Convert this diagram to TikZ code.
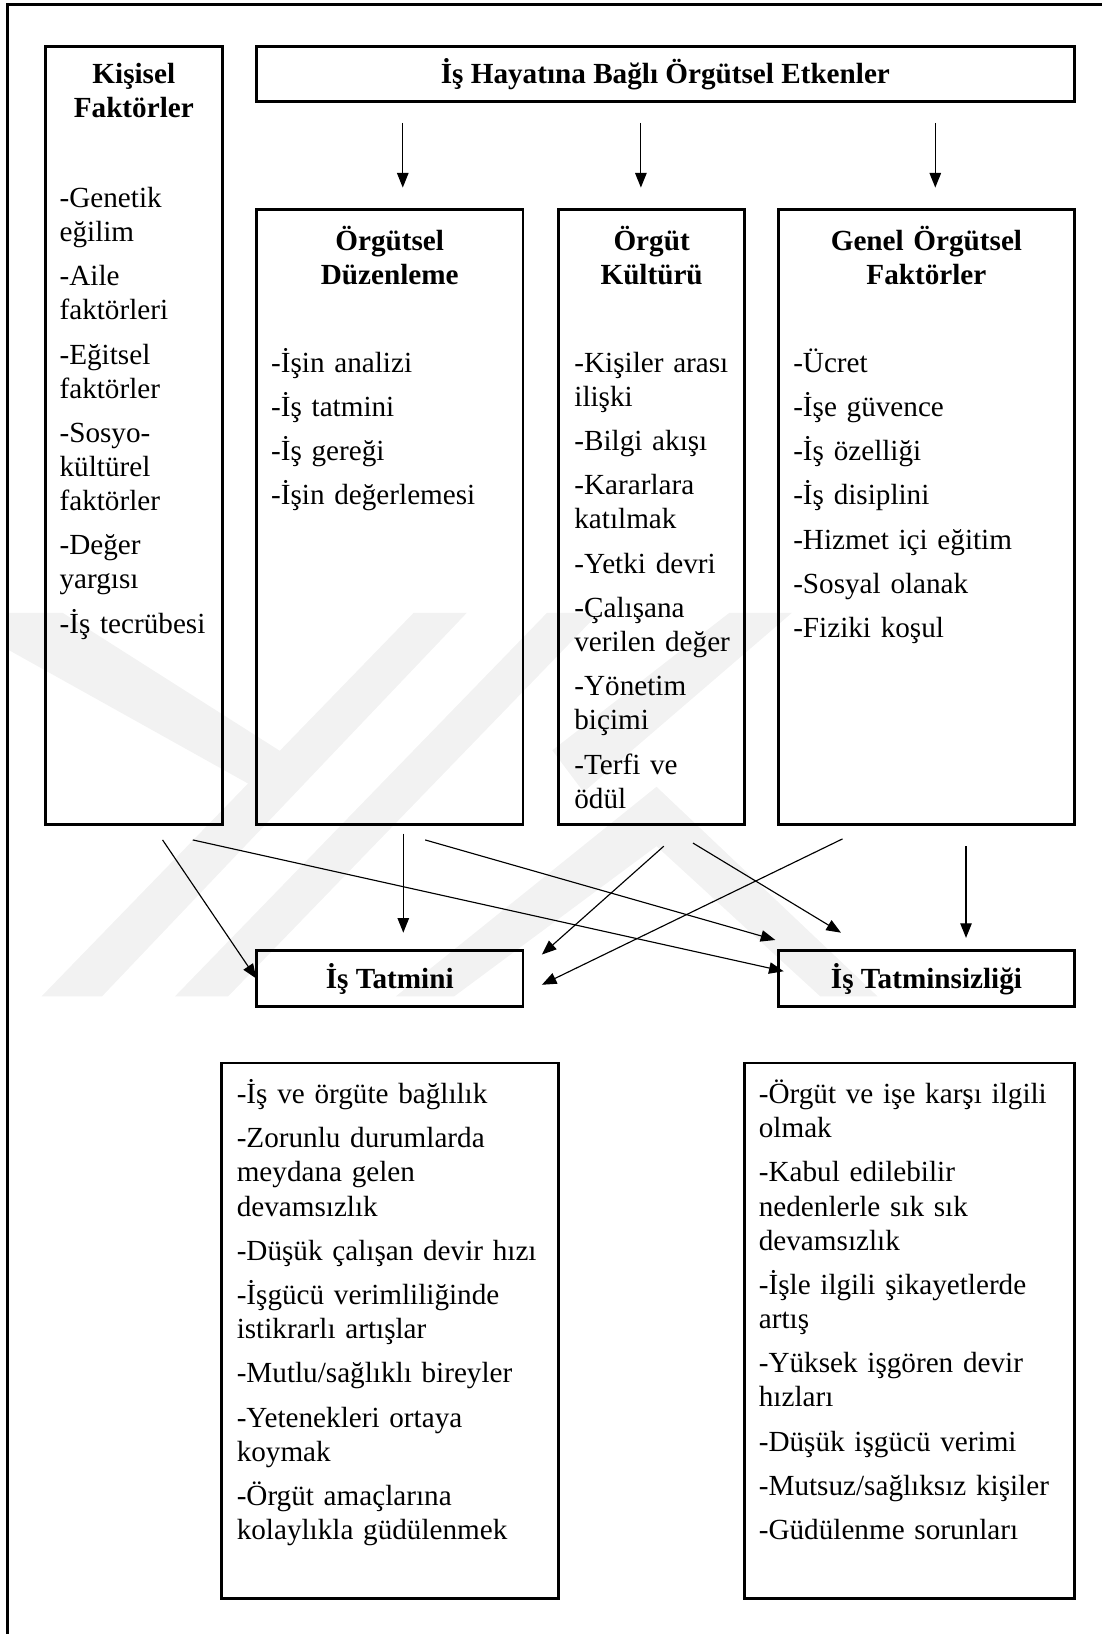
\documentclass[tikz,border=0pt]{standalone}
\usepackage{fontspec}
\setmainfont{Liberation Serif}
\usetikzlibrary{arrows.meta,calc}
\begin{document}
\begin{tikzpicture}[x=1pt,y=-1pt,
  box/.style={draw, line width=2.4pt, inner sep=0pt, outer sep=0pt, anchor=north west},
  head/.style={font=\fontsize{28}{32.7}\selectfont\bfseries, align=center, anchor=base, inner sep=0pt},
  list/.style={font=\fontsize{28}{32.7}\selectfont, align=left, anchor=base west, inner sep=0pt, text width=330pt},
  arr/.style={line width=1.1pt, -{Triangle[length=14pt,width=11pt]}},
  wm/.style={fill=black!5, draw=none}
]
\useasboundingbox (0,0) rectangle (1057,1568);
% watermark
\fill[wm] (7,588) -- (60,588) -- (274,724) -- (249,758) -- (7,623) -- cycle;
\fill[wm] (397,588) -- (448,588) -- (98,956) -- (40,956) -- cycle;
\fill[wm] (525,588) -- (575,588) -- (219,956) -- (168,956) -- cycle;
\fill[wm] (700,588) -- (760,588) -- (560,760) -- (530,720) -- cycle;
\fill[wm] (380,956) -- (630,755) -- (842,956) -- (787,956) -- (630,812) -- (436,956) -- cycle;
% frame
\draw[line width=2.4pt] (7,1568) -- (7,4.5) -- (1057,4.5);
% boxes
\node[box, minimum width=169.8pt, minimum height=746.5pt] (kisisel) at (43.5,44.5) {};
\node[box, minimum width=785pt, minimum height=53pt] (header) at (246,44.5) {};
\node[box, minimum width=256pt, minimum height=590pt] (duzen) at (246,201) {};
\node[box, minimum width=178.5pt, minimum height=590pt] (kultur) at (536,201) {};
\node[box, minimum width=284pt, minimum height=590pt] (genel) at (747,201) {};
\node[box, minimum width=256pt, minimum height=54pt] (tatmin) at (246,912) {};
\node[box, minimum width=284pt, minimum height=54pt] (tatminsiz) at (747,912) {};
\node[box, minimum width=323.4pt, minimum height=514pt] (sonucA) at (212.6,1020) {};
\node[box, minimum width=316.7pt, minimum height=514pt] (sonucB) at (714.3,1020) {};
% headings
\node[head] (tHeader) at (638.5,80) {İş Hayatına Bağlı Örgütsel Etkenler};
\node[head, text width=170pt] (tKisisel) at (128.4,80) {Kişisel\\Faktörler};
\node[head, text width=250pt] (tDuzen) at (374,240) {Örgütsel\\Düzenleme};
\node[head, text width=178pt] (tKultur) at (625.3,240) {Örgüt\\Kültürü};
\node[head, text width=280pt] (tGenel) at (889,240) {Genel Örgütsel\\Faktörler};
\node[head] (tTatmin) at (374,949) {İş Tatmini};
\node[head] (tTatminsiz) at (889,949) {İş Tatminsizliği};
% lists
\node[list] (lKisisel) at (57,199) {-Genetik\\eğilim\\[9.8pt]-Aile\\faktörleri\\[9.8pt]-Eğitsel\\faktörler\\[9.8pt]-Sosyo-\\kültürel\\faktörler\\[9.8pt]-Değer\\yargısı\\[9.8pt]-İş tecrübesi};
\node[list] (lDuzen) at (260,357) {-İşin analizi\\[9.8pt]-İş tatmini\\[9.8pt]-İş gereği\\[9.8pt]-İşin değerlemesi};
\node[list] (lKultur) at (551,357) {-Kişiler arası\\ilişki\\[9.8pt]-Bilgi akışı\\[9.8pt]-Kararlara\\katılmak\\[9.8pt]-Yetki devri\\[9.8pt]-Çalışana\\verilen değer\\[9.8pt]-Yönetim\\biçimi\\[9.8pt]-Terfi ve\\ödül};
\node[list] (lGenel) at (761,357) {-Ücret\\[9.8pt]-İşe güvence\\[9.8pt]-İş özelliği\\[9.8pt]-İş disiplini\\[9.8pt]-Hizmet içi eğitim\\[9.8pt]-Sosyal olanak\\[9.8pt]-Fiziki koşul};
\node[list] (lSonucA) at (227,1059) {-İş ve örgüte bağlılık\\[9.8pt]-Zorunlu durumlarda\\meydana gelen\\devamsızlık\\[9.8pt]-Düşük çalışan devir hızı\\[9.8pt]-İşgücü verimliliğinde\\istikrarlı artışlar\\[9.8pt]-Mutlu/sağlıklı bireyler\\[9.8pt]-Yetenekleri ortaya\\koymak\\[9.8pt]-Örgüt amaçlarına\\kolaylıkla güdülenmek};
\node[list] (lSonucB) at (728,1059) {-Örgüt ve işe karşı ilgili\\olmak\\[9.8pt]-Kabul edilebilir\\nedenlerle sık sık\\devamsızlık\\[9.8pt]-İşle ilgili şikayetlerde\\artış\\[9.8pt]-Yüksek işgören devir\\hızları\\[9.8pt]-Düşük işgücü verimi\\[9.8pt]-Mutsuz/sağlıksız kişiler\\[9.8pt]-Güdülenme sorunları};
% connector end points
\coordinate (h1s) at (386.5,118); \coordinate (h1e) at (386.5,180);
\coordinate (h2s) at (615,118);   \coordinate (h2e) at (615,180);
\coordinate (h3s) at (897.5,118); \coordinate (h3e) at (897.5,180);
\coordinate (m1s) at (156,806);
\coordinate (m2s) at (185,806);   \coordinate (m2e) at (752,932);
\coordinate (m3s) at (387,800);   \coordinate (m3e) at (387,895);
\coordinate (m4s) at (408,806);   \coordinate (m4e) at (744,902);
\coordinate (m5s) at (637,812);   \coordinate (m5e) at (520,916);
\coordinate (m6s) at (665,809);   \coordinate (m6e) at (807,895);
\coordinate (m7s) at (808.5,805); \coordinate (m7e) at (520,945);
\coordinate (m8s) at (927,812);   \coordinate (m8e) at (927,900);
% connectors
\draw[arr] (h1s) -- (h1e);
\draw[arr] (h2s) -- (h2e);
\draw[arr] (h3s) -- (h3e);
\draw[arr] (m1s) -- (tatmin.west);
\draw[arr] (m2s) -- (m2e);
\draw[arr] (m3s) -- (m3e);
\draw[arr] (m4s) -- (m4e);
\draw[arr] (m5s) -- (m5e);
\draw[arr] (m6s) -- (m6e);
\draw[arr] (m7s) -- (m7e);
\draw[arr] (m8s) -- (m8e);
\end{tikzpicture}
\end{document}
